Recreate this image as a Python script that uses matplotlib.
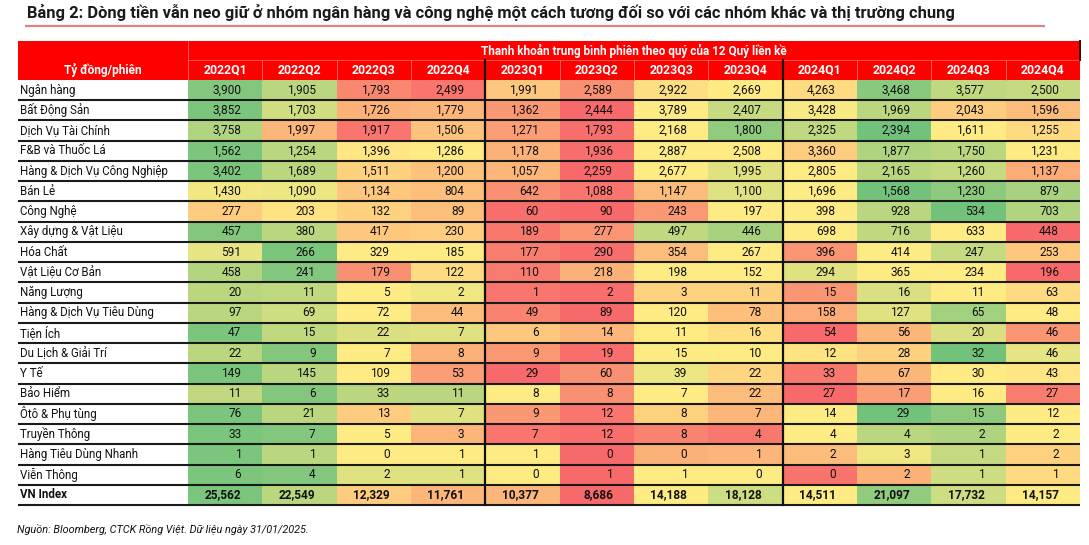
import matplotlib
matplotlib.use("Agg")
import matplotlib.pyplot as plt
from matplotlib.patches import Rectangle
from matplotlib.colors import LinearSegmentedColormap

# ---------------- data ----------------
title = ("Bảng 2: Dòng tiền vẫn neo giữ ở nhóm ngân hàng và công nghệ một cách "
         "tương đối so với các nhóm khác và thị trường chung")
group_header = "Thanh khoản trung bình phiên theo quý của 12 Quý liền kề"
row_header = "Tỷ đồng/phiên"
source = "Nguồn: Bloomberg, CTCK Rồng Việt. Dữ liệu ngày 31/01/2025."

quarters = ["2022Q1", "2022Q2", "2022Q3", "2022Q4",
            "2023Q1", "2023Q2", "2023Q3", "2023Q4",
            "2024Q1", "2024Q2", "2024Q3", "2024Q4"]

sectors = ["Ngân hàng", "Bất Động Sản", "Dịch Vụ Tài Chính", "F&B và Thuốc Lá",
           "Hàng & Dịch Vụ Công Nghiệp", "Bán Lẻ", "Công Nghệ", "Xây dựng & Vật Liệu",
           "Hóa Chất", "Vật Liệu Cơ Bản", "Năng Lượng", "Hàng & Dịch Vụ Tiêu Dùng",
           "Tiện Ích", "Du Lịch & Giải Trí", "Y Tế", "Bảo Hiểm", "Ôtô & Phụ tùng",
           "Truyền Thông", "Hàng Tiêu Dùng Nhanh", "Viễn Thông", "VN Index"]

values = [
    [3900, 1905, 1793, 2499, 1991, 2589, 2922, 2669, 4263, 3468, 3577, 2500],
    [3852, 1703, 1726, 1779, 1362, 2444, 3789, 2407, 3428, 1969, 2043, 1596],
    [3758, 1997, 1917, 1506, 1271, 1793, 2168, 1800, 2325, 2394, 1611, 1255],
    [1562, 1254, 1396, 1286, 1178, 1936, 2887, 2508, 3360, 1877, 1750, 1231],
    [3402, 1689, 1511, 1200, 1057, 2259, 2677, 1995, 2805, 2165, 1260, 1137],
    [1430, 1090, 1134, 804, 642, 1088, 1147, 1100, 1696, 1568, 1230, 879],
    [277, 203, 132, 89, 60, 90, 243, 197, 398, 928, 534, 703],
    [457, 380, 417, 230, 189, 277, 497, 446, 698, 716, 633, 448],
    [591, 266, 329, 185, 177, 290, 354, 267, 396, 414, 247, 253],
    [458, 241, 179, 122, 110, 218, 198, 152, 294, 365, 234, 196],
    [20, 11, 5, 2, 1, 2, 3, 11, 15, 16, 11, 63],
    [97, 69, 72, 44, 49, 89, 120, 78, 158, 127, 65, 48],
    [47, 15, 22, 7, 6, 14, 11, 16, 54, 56, 20, 46],
    [22, 9, 7, 8, 9, 19, 15, 10, 12, 28, 32, 46],
    [149, 145, 109, 53, 29, 60, 39, 22, 33, 67, 30, 43],
    [11, 6, 33, 11, 8, 8, 7, 22, 27, 17, 16, 27],
    [76, 21, 13, 7, 9, 12, 8, 7, 14, 29, 15, 12],
    [33, 7, 5, 3, 7, 12, 8, 4, 4, 4, 2, 2],
    [1, 1, 0, 1, 1, 0, 0, 1, 2, 3, 1, 2],
    [6, 4, 2, 1, 0, 1, 1, 0, 0, 2, 1, 1],
    [25562, 22549, 12329, 11761, 10377, 8686, 14188, 18128, 14511, 21097, 17732, 14157],
]

# colour-scale position of every cell (0 = red, 0.5 = yellow, 1 = green)
color_scores = [
    [0.90, 0.72, 0.12, 0.05, 0.36, 0.15, 0.45, 0.50, 0.44, 0.88, 0.70, 0.68],
    [0.92, 0.65, 0.28, 0.30, 0.18, 0.00, 0.50, 0.68, 0.52, 0.72, 0.38, 0.32],
    [0.75, 0.30, 0.05, 0.34, 0.20, 0.02, 0.50, 0.85, 0.70, 0.95, 0.50, 0.44],
    [0.92, 0.72, 0.48, 0.50, 0.28, 0.02, 0.50, 0.50, 0.38, 0.76, 0.72, 0.50],
    [0.92, 0.72, 0.40, 0.34, 0.30, 0.00, 0.50, 0.60, 0.50, 0.72, 0.68, 0.26],
    [0.54, 0.56, 0.36, 0.33, 0.15, 0.05, 0.32, 0.60, 0.50, 0.95, 0.86, 0.78],
    [0.38, 0.47, 0.40, 0.33, 0.02, 0.00, 0.18, 0.50, 0.50, 0.72, 0.95, 0.75],
    [0.90, 0.72, 0.36, 0.38, 0.06, 0.17, 0.70, 0.78, 0.50, 0.70, 0.50, 0.00],
    [0.58, 0.92, 0.50, 0.50, 0.08, 0.02, 0.32, 0.50, 0.17, 0.50, 0.68, 0.36],
    [0.74, 0.90, 0.15, 0.44, 0.07, 0.28, 0.50, 0.50, 0.60, 0.50, 0.50, 0.00],
    [0.72, 0.70, 0.50, 0.55, 0.05, 0.02, 0.40, 0.40, 0.17, 0.62, 0.50, 0.44],
    [0.72, 0.66, 0.50, 0.32, 0.10, 0.00, 0.50, 0.33, 0.26, 0.60, 0.80, 0.50],
    [0.92, 0.70, 0.62, 0.60, 0.36, 0.30, 0.50, 0.46, 0.00, 0.30, 0.62, 0.17],
    [0.72, 0.90, 0.50, 0.28, 0.18, 0.02, 0.50, 0.50, 0.47, 0.40, 0.95, 0.58],
    [0.92, 0.72, 0.50, 0.20, 0.00, 0.15, 0.56, 0.42, 0.06, 0.30, 0.50, 0.48],
    [0.70, 0.90, 0.72, 0.72, 0.50, 0.15, 0.50, 0.32, 0.00, 0.20, 0.50, 0.08],
    [0.92, 0.72, 0.38, 0.60, 0.18, 0.05, 0.40, 0.30, 0.50, 0.95, 0.86, 0.50],
    [0.92, 0.90, 0.50, 0.30, 0.05, 0.02, 0.10, 0.06, 0.50, 0.72, 0.76, 0.50],
    [0.92, 0.72, 0.50, 0.50, 0.50, 0.00, 0.28, 0.30, 0.32, 0.55, 0.68, 0.40],
    [0.92, 0.90, 0.60, 0.60, 0.50, 0.00, 0.50, 0.50, 0.04, 0.28, 0.66, 0.44],
    [0.92, 0.72, 0.38, 0.30, 0.30, 0.00, 0.50, 0.66, 0.50, 0.85, 0.66, 0.50],
]

# ---------------- style / layout ----------------
FONT = ["Roboto", "DejaVu Sans"]
plt.rcParams["font.family"] = FONT
HEADER_RED = "#FF0000"
cmap = LinearSegmentedColormap.from_list(
    "excel3", [(0.0, "#F8696B"), (0.5, "#FFEB84"), (1.0, "#63BE7B")])

W, H = 1089, 545
fig = plt.figure(figsize=(W / 100, H / 100), dpi=100)
ax = fig.add_axes([0, 0, 1, 1])
ax.set_xlim(0, W)
ax.set_ylim(H, 0)
ax.axis("off")

x_left, x_lab, x_right = 18, 188, 1080
ncol = len(quarters)
cw = (x_right - x_lab) / ncol
y_h1, y_h2, y_d = 41, 60, 80
y_bottom = 505
nrow = len(sectors)
rh = (y_bottom - y_d) / nrow

# title and rule
ax.text(27, 12.5, title, fontsize=11.9, fontweight="bold", color="#1a1a1a",
        ha="left", va="center")
ax.plot([25, 1045], [25.5, 25.5], color="#D98585", lw=1.6, solid_capstyle="butt")

# header block
ax.add_patch(Rectangle((x_left, y_h1), x_right - x_left, y_d - y_h1,
                       facecolor=HEADER_RED, edgecolor="none"))
ax.plot([x_lab, x_right], [y_h2, y_h2], color="#FF6060", lw=0.6)
ax.text((x_lab + x_right) / 2, (y_h1 + y_h2) / 2 + 0.5, group_header,
        fontsize=8.5, fontweight="bold", color="white", ha="center", va="center")
ax.text((x_left + x_lab) / 2, (y_h2 + y_d) / 2, row_header, fontsize=8.6,
        fontweight="bold", color="white", ha="center", va="center")
ax.plot([x_lab, x_lab], [y_h1, y_d], color="#FF7070", lw=0.6)
for j, q in enumerate(quarters):
    x0 = x_lab + j * cw
    if j > 0:
        ax.plot([x0, x0], [y_h2, y_d], color="#FF7070", lw=0.6)
    ax.text(x0 + cw / 2, (y_h2 + y_d) / 2, q, fontsize=8.8, fontweight="bold",
            color="white", ha="center", va="center")
ax.plot([x_right, x_right], [y_h1, y_h2], color="#3a0000", lw=1.4)

# body
for i, name in enumerate(sectors):
    y0 = y_d + i * rh
    bold = (i == nrow - 1)
    fw = "bold" if bold else "normal"
    ax.text(x_left + 2, y0 + rh / 2, name, fontsize=8.3, fontweight=fw,
            color="#111111", ha="left", va="center")
    for j in range(ncol):
        x0 = x_lab + j * cw
        ax.add_patch(Rectangle((x0, y0), cw, rh, facecolor=cmap(color_scores[i][j]),
                               edgecolor="none"))
        ax.text(x0 + cw - 21, y0 + rh / 2, f"{values[i][j]:,}", fontsize=8.6,
                fontweight=fw, color="#111111", ha="right", va="center")
    ax.plot([x_left, x_right], [y0 + rh, y0 + rh], color="#1a1a1a", lw=1.5,
            solid_capstyle="butt")

# year separators
for k in (4, 8):
    xs = x_lab + k * cw
    ax.plot([xs, xs], [y_h2, y_bottom], color="#111111", lw=1.6)

# source
ax.text(17, 530, source, fontsize=7.8, fontstyle="italic", color="#111111",
        ha="left", va="center")

fig.savefig("out.png", dpi=100)
